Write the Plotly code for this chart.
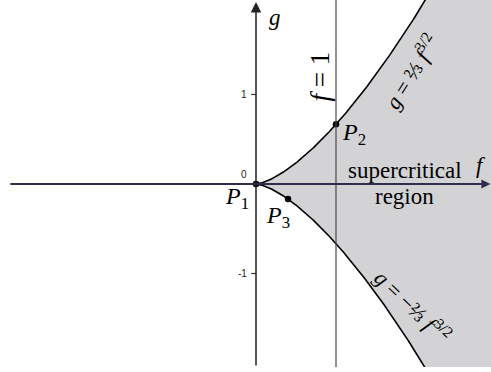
import numpy as np
import plotly.graph_objects as go

# Boundary of the supercritical region: g = ±(2/3) f^(3/2)
coef = 2 / 3
f_grid = np.linspace(0, 3.5, 400)
g_upper = coef * f_grid ** 1.5
g_lower = -coef * f_grid ** 1.5

# Marked points (P1 at the cusp, P2 on f = 1, P3 on the lower branch)
point_names = ["P<sub>1</sub>", "P<sub>2</sub>", "P<sub>3</sub>"]
point_f = [0.0, 1.0, 0.4]
point_sign = [1, 1, -1]
point_g = [s * coef * f ** 1.5 for s, f in zip(point_sign, point_f)]

y_ticks = [-1, 0, 1]
f_line = 1

X_RANGE = [-3.2, 2.9375]
Y_RANGE = [-2.045, 2.056]

SERIF = "Liberation Serif, DejaVu Serif, serif"
GRAY = "#d3d3d6"

fig = go.Figure()

# Shaded region
fig.add_trace(go.Scatter(
    x=np.concatenate([f_grid, f_grid[::-1]]),
    y=np.concatenate([g_upper, g_lower[::-1]]),
    fill="toself", fillcolor=GRAY, line=dict(width=0),
    mode="lines", hoverinfo="skip", showlegend=False,
))

# Vertical line f = 1
fig.add_shape(type="line", x0=f_line, x1=f_line, y0=Y_RANGE[0], y1=Y_RANGE[1],
              line=dict(color="#4a4a4a", width=1.2))

# Boundary curves
for g in (g_upper, g_lower):
    fig.add_trace(go.Scatter(x=f_grid, y=g, mode="lines",
                             line=dict(color="black", width=1.6),
                             hoverinfo="skip", showlegend=False))

# Axes drawn through the origin, with arrows
fig.add_annotation(x=2.93, y=0, ax=-3.09, ay=0, xref="x", yref="y",
                   axref="x", ayref="y", showarrow=True, arrowhead=2,
                   arrowsize=1.0, arrowwidth=1.8, arrowcolor="#2c2e4c", text="")
fig.add_annotation(x=0, y=2.035, ax=0, ay=Y_RANGE[0], xref="x", yref="y",
                   axref="x", ayref="y", showarrow=True, arrowhead=2,
                   arrowsize=1.4, arrowwidth=1.5, arrowcolor="#222222", text="")

# Ticks on the g axis
for t in y_ticks:
    if t != 0:
        fig.add_shape(type="line", x0=-0.06, x1=0, y0=t, y1=t,
                      line=dict(color="#333333", width=1.2))
    fig.add_annotation(x=-0.09, y=t + (0.11 if t == 0 else 0), text=str(t),
                       showarrow=False, xanchor="right", yanchor="middle",
                       font=dict(family="Liberation Sans, Arial, sans-serif",
                                 size=10, color="#222222"))

# Points
fig.add_trace(go.Scatter(x=point_f, y=point_g, mode="markers",
                         marker=dict(color="black", size=6.5),
                         hoverinfo="skip", showlegend=False))

label_offsets = [(-0.24, -0.16), (0.22, -0.11), (-0.12, -0.2)]
for name, f, g, (dx, dy) in zip(point_names, point_f, point_g, label_offsets):
    fig.add_annotation(x=f + dx, y=g + dy, text=f"<i>P</i>{name[1:]}",
                       showarrow=False, font=dict(family=SERIF, size=24, color="black"))

# Text labels
fig.add_annotation(x=0.24, y=1.86, text="<i>g</i>", showarrow=False,
                   font=dict(family=SERIF, size=23, color="black"))
fig.add_annotation(x=0.8, y=1.2, text="<i>f</i> = 1", showarrow=False, textangle=-90,
                   font=dict(family=SERIF, size=27, color="black"))
fig.add_annotation(x=1.86, y=0.15, text="supercritical", showarrow=False,
                   font=dict(family=SERIF, size=23, color="black"))
fig.add_annotation(x=2.81, y=0.21, text="<i>f</i>", showarrow=False,
                   font=dict(family=SERIF, size=23, color="black"))
fig.add_annotation(x=1.85, y=-0.14, text="region", showarrow=False,
                   font=dict(family=SERIF, size=23, color="black"))
fig.add_annotation(x=1.94, y=1.26, text="<i>g</i> = ⅔ <i>f</i><sup>3/2</sup>",
                   showarrow=False, textangle=-58,
                   font=dict(family=SERIF, size=22, color="black"))
fig.add_annotation(x=1.97, y=-1.36, text="<i>g</i> = −⅔ <i>f</i><sup>3/2</sup>",
                   showarrow=False, textangle=44,
                   font=dict(family=SERIF, size=22, color="black"))

fig.update_xaxes(range=X_RANGE, visible=False, fixedrange=True)
fig.update_yaxes(range=Y_RANGE, visible=False, fixedrange=True)
fig.update_layout(width=491, height=372,
                  margin=dict(l=0, r=0, t=0, b=5),
                  paper_bgcolor="white", plot_bgcolor="white")

fig.write_html("out.html")
